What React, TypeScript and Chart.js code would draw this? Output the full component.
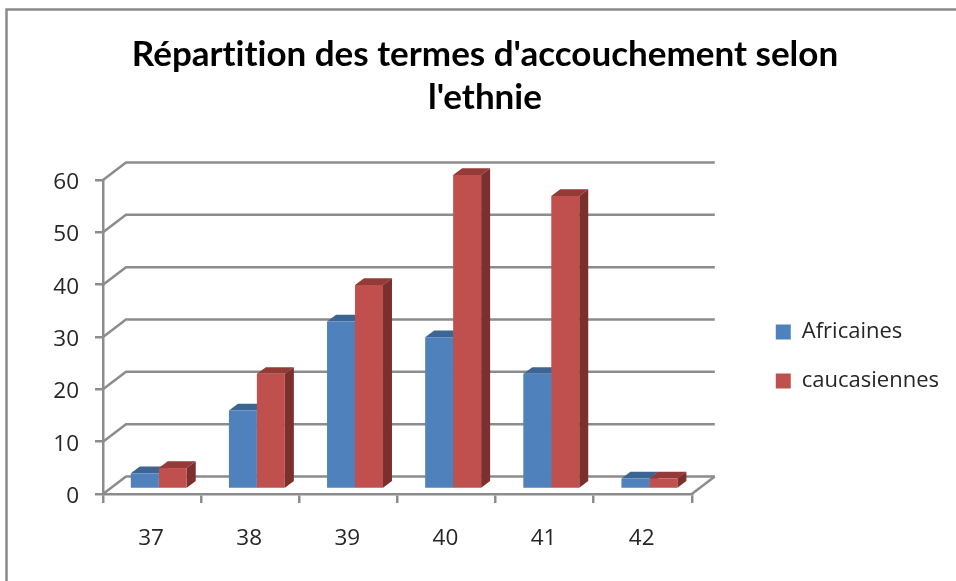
import React, { useEffect, useRef } from "react";
import { Chart, registerables } from "chart.js";

Chart.register(...registerables);

const titleLines = ["Répartition des termes d'accouchement selon", "l'ethnie"];
const categories = ["37", "38", "39", "40", "41", "42"];
const africaines = [3, 15, 32, 29, 22, 2];
const caucasiennes = [4, 22, 39, 60, 56, 2];

const AXIS = "#8c8c8c";
const FONT = "'Open Sans'";
const BACK_DX = 23;
const BACK_DY = 17.5;
const BAR_DX = 6.7;
const BAR_DY = 5;
const DEPTH_DX = 9;
const DEPTH_DY = 6.7;

const faceColors = [
  { top: "#3d6594", side: "#385d8a" },
  { top: "#953a37", side: "#7c302e" },
];

const poly = (ctx: CanvasRenderingContext2D, pts: number[][], fill: string) => {
  ctx.beginPath();
  pts.forEach(([x, y], i) => (i ? ctx.lineTo(x, y) : ctx.moveTo(x, y)));
  ctx.closePath();
  ctx.fillStyle = fill;
  ctx.fill();
};

const stage = {
  id: "stage",
  beforeDraw(chart: any) {
    const { ctx, width, height } = chart;
    ctx.save();
    ctx.fillStyle = "#ffffff";
    ctx.fillRect(0, 0, width, height);
    ctx.strokeStyle = "#8a8a8a";
    ctx.lineWidth = 2.5;
    ctx.beginPath();
    ctx.moveTo(6.5, height);
    ctx.lineTo(6.5, 9.5);
    ctx.lineTo(width, 9.5);
    ctx.stroke();
    ctx.restore();
    ctx.textRendering = "optimizeSpeed";
  },
  afterLayout(chart: any) {
    const lg = chart.legend;
    lg.left += 57;
    lg.right += 57;
    lg.top += 66;
    lg.bottom += 66;
    chart.titleBlock.left = 14;
    chart.titleBlock.right = 956;
  },
  beforeDatasetsDraw(chart: any) {
    const { ctx, scales, chartArea } = chart;
    const y = scales.y;
    ctx.save();
    ctx.strokeStyle = AXIS;
    ctx.lineWidth = 2.5;
    y.ticks.forEach((t: any) => {
      const py = y.getPixelForValue(t.value);
      ctx.beginPath();
      ctx.moveTo(chartArea.left, py);
      ctx.lineTo(chartArea.left + BACK_DX, py - BACK_DY);
      ctx.lineTo(chartArea.right + BACK_DX, py - BACK_DY);
      ctx.stroke();
    });
    ctx.beginPath();
    ctx.moveTo(chartArea.right, chartArea.bottom);
    ctx.lineTo(chartArea.right + BACK_DX, chartArea.bottom - BACK_DY);
    ctx.stroke();
    ctx.restore();
    ctx.save();
    ctx.translate(BAR_DX, -BAR_DY);
    // Faces go down first, blue then red; the library then paints the front faces over them.
    faceColors.forEach((colors, index) => {
      chart.getDatasetMeta(index).data.forEach((bar: any) => {
        const half = bar.width / 2;
        const l = bar.x - half;
        const r = bar.x + half;
        poly(ctx, [[l, bar.y], [l + DEPTH_DX, bar.y - DEPTH_DY], [r + DEPTH_DX, bar.y - DEPTH_DY], [r, bar.y]], colors.top);
        poly(ctx, [[r, bar.y], [r + DEPTH_DX, bar.y - DEPTH_DY], [r + DEPTH_DX, bar.base - DEPTH_DY], [r, bar.base]], colors.side);
      });
    });
  },
  afterDatasetsDraw(chart: any) {
    chart.ctx.restore();
  },
};

export default function App() {
  const ref = useRef<HTMLCanvasElement>(null);
  useEffect(() => {
    const chart = new Chart(ref.current as HTMLCanvasElement, {
      type: "bar",
      plugins: [stage],
      data: {
        labels: categories,
        datasets: [
          { label: "Africaines", data: africaines, backgroundColor: "#4f81bd", clip: false },
          { label: "caucasiennes", data: caucasiennes, backgroundColor: "#c0504d", clip: false },
        ],
      } as any,
      options: {
        responsive: false,
        animation: false,
        layout: { padding: { left: 0, right: 64, top: 0, bottom: 0 } },
        datasets: { bar: { categoryPercentage: 0.57, barPercentage: 1 } },
        plugins: {
          tooltip: { enabled: false },
          title: {
            display: true,
            text: titleLines,
            color: "#000000",
            font: { family: "Lato", size: 35, weight: "bold", lineHeight: 43 / 35 },
            padding: { top: 33.5, bottom: 60.5 },
          },
          legend: {
            position: "right",
            labels: {
              boxWidth: 15,
              boxHeight: 15,
              padding: 27,
              color: "#262626",
              font: { family: FONT, size: 22 },
            },
          },
        },
        scales: {
          x: {
            afterFit: (s: any) => { s.height = 87; },
            grid: { drawOnChartArea: false, drawTicks: true, tickLength: 9, color: AXIS, lineWidth: 2.5 },
            border: { display: true, color: AXIS, width: 2.5 },
            ticks: { color: "#262626", padding: 22, labelOffset: -1, font: { family: FONT, size: 22.5 } },
          },
          y: {
            min: 0,
            max: 60,
            afterFit: (s: any) => { s.width = 103; },
            grid: { drawOnChartArea: false, drawTicks: true, tickLength: 8, color: AXIS, lineWidth: 2.5 },
            border: { display: true, color: AXIS, width: 2.5 },
            ticks: { stepSize: 10, color: "#262626", padding: 16, labelOffset: 2.5, font: { family: FONT, size: 22.5 } },
          },
        },
      } as any,
    });
    return () => chart.destroy();
  }, []);
  return (
    <canvas
      ref={ref}
      width={956}
      height={581}
      style={{ position: "absolute", left: 0, top: 0, display: "block", filter: "blur(0.5px)" }}
    />
  );
}
